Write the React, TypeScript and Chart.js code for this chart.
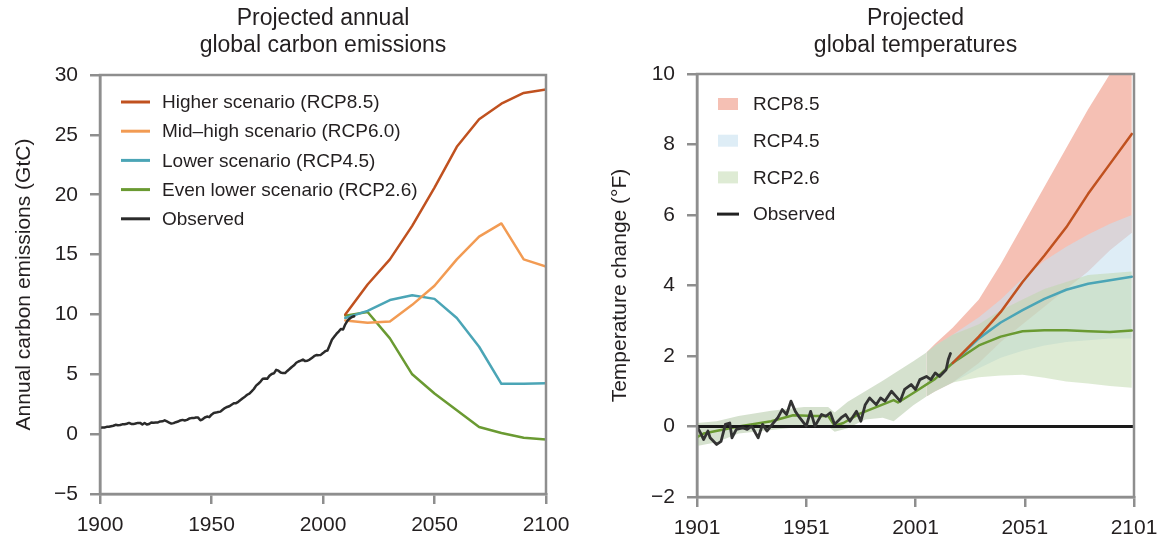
import { useEffect, useRef } from 'react';
import { Chart, registerables } from 'chart.js';

Chart.register(...registerables);

const FONT = "'Liberation Sans', Arial, Helvetica, sans-serif";
const TEXT = '#231f20';
const AXIS = '#8e8e8e';

const C85 = '#c0511f';
const C60 = '#f29b53';
const C45 = '#4ba5b6';
const C26 = '#6a9a32';
const COBS = '#2b2b2b';

// ---------- Left chart: projected annual global carbon emissions ----------
const EMIS_X_TICKS = [1900, 1950, 2000, 2050, 2100];
const EMIS_Y_TICKS = [-5, 0, 5, 10, 15, 20, 25, 30];
const OBS_EMIS_FIRST_YEAR = 1900;
const OBS_EMIS = [
  0.53, 0.55, 0.56, 0.61, 0.62, 0.66, 0.7, 0.78, 0.74, 0.76,
  0.82, 0.82, 0.87, 0.94, 0.85, 0.84, 0.89, 0.94, 0.94, 0.81,
  0.93, 0.8, 0.85, 0.97, 0.96, 0.98, 0.98, 1.06, 1.07, 1.15,
  1.06, 0.97, 0.88, 0.92, 1.0, 1.05, 1.14, 1.19, 1.14, 1.19,
  1.3, 1.34, 1.34, 1.39, 1.38, 1.16, 1.24, 1.39, 1.47, 1.42,
  1.63, 1.77, 1.8, 1.85, 1.88, 2.04, 2.18, 2.27, 2.33, 2.46,
  2.58, 2.59, 2.7, 2.85, 3.0, 3.13, 3.29, 3.39, 3.57, 3.77,
  4.05, 4.21, 4.39, 4.63, 4.64, 4.62, 4.88, 5.03, 5.08, 5.37,
  5.3, 5.15, 5.1, 5.1, 5.28, 5.44, 5.61, 5.75, 5.96, 6.07,
  6.14, 6.23, 6.1, 6.13, 6.23, 6.37, 6.51, 6.61, 6.6, 6.62,
  6.77, 6.93, 6.99, 7.43, 7.89, 8.13, 8.37, 8.57, 8.78, 8.74,
  9.17, 9.48, 9.66, 9.79, 9.85,
];
const RCP_YEARS = [2010, 2020, 2030, 2040, 2050, 2060, 2070, 2080, 2090, 2100];
const RCP85_EMIS = [10.0, 12.5, 14.6, 17.4, 20.6, 24.0, 26.3, 27.6, 28.5, 28.8];
const RCP60_EMIS = [9.5, 9.3, 9.4, 10.8, 12.4, 14.6, 16.5, 17.6, 14.6, 14.0];
const RCP45_EMIS = [9.7, 10.3, 11.2, 11.6, 11.3, 9.7, 7.3, 4.2, 4.2, 4.25];
const RCP26_EMIS = [9.9, 10.2, 8.0, 5.0, 3.4, 2.0, 0.6, 0.1, -0.3, -0.45];

const EMIS_LEGEND = [
  { label: 'Higher scenario (RCP8.5)', color: C85 },
  { label: 'Mid\u2013high scenario (RCP6.0)', color: C60 },
  { label: 'Lower scenario (RCP4.5)', color: C45 },
  { label: 'Even lower scenario (RCP2.6)', color: C26 },
  { label: 'Observed', color: COBS },
];

// ---------- Right chart: projected global temperatures ----------
const TEMP_X_TICKS = [1901, 1951, 2001, 2051, 2101];
const TEMP_Y_TICKS = [-2, 0, 2, 4, 6, 8, 10];
const OBS_TEMP_YEARS = [
  1901, 1903, 1904, 1906, 1907, 1910, 1912, 1914, 1916, 1917, 1919, 1922, 1924, 1926,
  1929, 1931, 1933, 1936, 1938, 1940, 1942, 1944, 1946, 1948, 1951, 1953, 1955, 1958,
  1960, 1962, 1964, 1967, 1969, 1971, 1974, 1976, 1978, 1980, 1983, 1985, 1987, 1990,
  1992, 1994, 1996, 1999, 2001, 2003, 2006, 2008, 2010, 2012, 2015, 2016, 2017,
];
const OBS_TEMP = [
  0.01, -0.23, -0.37, -0.13, -0.32, -0.51, -0.42, 0.06, 0.1, -0.32, -0.08, -0.04, -0.08, 0.01,
  -0.32, 0.06, -0.13, 0.1, 0.25, 0.48, 0.34, 0.72, 0.43, 0.25, 0.01, 0.43, 0.01, 0.34,
  0.29, 0.39, 0.06, 0.25, 0.34, 0.15, 0.43, 0.15, 0.62, 0.81, 0.62, 0.81, 0.72, 1.0,
  0.86, 0.72, 1.05, 1.19, 1.05, 1.33, 1.42, 1.33, 1.52, 1.42, 1.61, 1.9, 2.07,
];
const MODEL_HIST_YEARS = [1901, 1904, 1912, 1920, 1935, 1945, 1955, 1961, 1964, 1968, 1975, 1985, 1991, 1993, 2000, 2010];
const MODEL_HIST_TEMP = [-0.3, -0.2, -0.1, 0.0, 0.15, 0.32, 0.3, 0.3, 0.02, 0.1, 0.35, 0.6, 0.75, 0.68, 0.95, 1.35];
const PROJ_YEARS = [2018, 2030, 2040, 2050, 2060, 2070, 2080, 2090, 2100];
const RCP85_TEMP = [1.8, 2.55, 3.25, 4.1, 4.85, 5.65, 6.6, 7.45, 8.3];
const RCP45_TEMP = [1.8, 2.5, 2.95, 3.3, 3.62, 3.88, 4.05, 4.15, 4.25];
const RCP26_TEMP = [1.8, 2.3, 2.55, 2.7, 2.73, 2.73, 2.7, 2.68, 2.72];
const ZERO_YEARS = [1901, 2101];
const ZERO_LINE = [0, 0];

const HIST_BAND_YEARS = [1901, 1910, 1920, 1935, 1950, 1961, 1964, 1970, 1978, 1986, 1991, 2000, 2006];
const HIST_BAND_UPPER = [0.1, 0.15, 0.3, 0.45, 0.55, 0.55, 0.4, 0.7, 1.0, 1.3, 1.5, 1.85, 2.1];
const HIST_BAND_LOWER = [-0.55, -0.45, -0.2, -0.1, 0.0, 0.0, -0.15, -0.05, 0.2, 0.25, 0.15, 0.6, 0.85];
const BAND_YEARS = [2006, 2010, 2018, 2030, 2040, 2050, 2060, 2070, 2080, 2090, 2100];
const RCP85_UPPER = [2.1, 2.35, 2.8, 3.6, 4.6, 5.7, 6.8, 7.9, 9.0, 10.0, 11.0];
const RCP85_LOWER = [0.85, 1.0, 1.25, 1.8, 2.4, 2.9, 3.4, 3.9, 4.4, 5.0, 5.5];
const RCP45_UPPER = [2.1, 2.3, 2.6, 3.1, 3.6, 4.2, 4.7, 5.1, 5.45, 5.75, 6.0];
const RCP45_LOWER = [0.85, 1.0, 1.25, 1.65, 1.95, 2.15, 2.3, 2.4, 2.45, 2.5, 2.5];
const RCP26_UPPER = [2.1, 2.3, 2.6, 2.9, 3.3, 3.6, 3.9, 4.1, 4.3, 4.35, 4.4];
const RCP26_LOWER = [0.85, 1.0, 1.25, 1.4, 1.45, 1.47, 1.38, 1.28, 1.22, 1.15, 1.1];

const BAND85 = 'rgba(235,130,105,0.5)';
const BAND45 = 'rgba(200,225,240,0.6)';
const BAND26 = 'rgba(190,215,170,0.5)';
const BANDHIST = 'rgba(172,196,158,0.5)';

const TEMP_LEGEND = [
  { label: 'RCP8.5', color: BAND85, patch: true },
  { label: 'RCP4.5', color: BAND45, patch: true },
  { label: 'RCP2.6', color: BAND26, patch: true },
  { label: 'Observed', color: '#222222', patch: false },
];

const pts = (xs: number[], ys: number[]) => xs.map((x, i) => ({ x, y: ys[i] }));

const lineDs = (data: any[], color: string, width: number, order: number) => ({
  type: 'line',
  data,
  borderColor: color,
  borderWidth: width,
  pointRadius: 0,
  tension: 0,
  fill: false,
  borderJoinStyle: 'round',
  borderCapStyle: 'round',
  order,
});

const bandDs = (years: number[], upper: number[], lower: number[], color: string, order: number) => [
  {
    type: 'line',
    data: pts(years, lower),
    borderWidth: 0,
    borderColor: 'rgba(0,0,0,0)',
    pointRadius: 0,
    fill: false,
    order,
  },
  {
    type: 'line',
    data: pts(years, upper),
    borderWidth: 0,
    borderColor: 'rgba(0,0,0,0)',
    backgroundColor: color,
    pointRadius: 0,
    fill: '-1',
    order,
  },
];

const framePlugin = {
  id: 'frame',
  afterDraw(chart: any) {
    const { ctx, chartArea } = chart;
    const { left, top, right, bottom } = chartArea;
    ctx.save();
    ctx.strokeStyle = AXIS;
    ctx.lineWidth = 2.5;
    ctx.strokeRect(left, top, right - left, bottom - top);
    ctx.restore();
  },
};

const fmtNum = (v: any) => {
  const n = Number(v);
  return n < 0 ? '\u2212' + Math.abs(n) : String(n);
};

function makeScales(o: {
  xMin: number; xMax: number; xTicks: number[];
  yMin: number; yMax: number; yTicks: number[];
  yTitle: string; yWidth: number; yTitlePad: number; xHeight: number;
}) {
  const grid = { drawOnChartArea: false, color: AXIS, lineWidth: 2.5, tickLength: 10 };
  return {
    x: {
      type: 'linear',
      min: o.xMin,
      max: o.xMax,
      grid,
      border: { color: AXIS, width: 2.5 },
      ticks: {
        color: TEXT,
        font: { family: FONT, size: 21 },
        padding: 9,
        maxRotation: 0,
        autoSkip: false,
        callback: (v: any) => String(v),
      },
      afterBuildTicks: (s: any) => {
        s.ticks = o.xTicks.map((value) => ({ value }));
      },
      afterFit: (s: any) => {
        s.height = o.xHeight;
      },
    },
    y: {
      type: 'linear',
      min: o.yMin,
      max: o.yMax,
      grid,
      border: { color: AXIS, width: 2.5 },
      ticks: {
        color: TEXT,
        font: { family: FONT, size: 21 },
        padding: 12,
        autoSkip: false,
        callback: fmtNum,
      },
      afterBuildTicks: (s: any) => {
        s.ticks = o.yTicks.map((value) => ({ value }));
      },
      title: {
        display: true,
        text: o.yTitle,
        color: TEXT,
        font: { family: FONT, size: 21, lineHeight: 1.2 },
        padding: { top: o.yTitlePad, bottom: 0 },
      },
      afterFit: (s: any) => {
        s.width = o.yWidth;
      },
    },
  };
}

function EmissionsChart() {
  const ref = useRef<HTMLCanvasElement | null>(null);
  useEffect(() => {
    if (!ref.current) return;
    const obsYears = OBS_EMIS.map((_, i) => OBS_EMIS_FIRST_YEAR + i);
    const legendPlugin = {
      id: 'emisLegend',
      afterDraw(chart: any) {
        const { ctx, chartArea } = chart;
        ctx.save();
        ctx.font = `19px ${FONT}`;
        ctx.textBaseline = 'middle';
        ctx.textAlign = 'left';
        EMIS_LEGEND.forEach((it, i) => {
          const y = chartArea.top + 27 + i * 29.2;
          ctx.strokeStyle = it.color;
          ctx.lineWidth = 3;
          ctx.beginPath();
          ctx.moveTo(chartArea.left + 21, y);
          ctx.lineTo(chartArea.left + 50, y);
          ctx.stroke();
          ctx.fillStyle = TEXT;
          ctx.fillText(it.label, chartArea.left + 62, y + 1);
        });
        ctx.restore();
      },
    };
    const chart = new Chart(ref.current, {
      type: 'line',
      data: {
        datasets: [
          lineDs(pts(obsYears, OBS_EMIS), COBS, 2.5, 0),
          lineDs(pts(RCP_YEARS, RCP85_EMIS), C85, 2.5, 1),
          lineDs(pts(RCP_YEARS, RCP60_EMIS), C60, 2.5, 1),
          lineDs(pts(RCP_YEARS, RCP45_EMIS), C45, 2.5, 1),
          lineDs(pts(RCP_YEARS, RCP26_EMIS), C26, 2.5, 1),
        ] as any,
      },
      options: {
        animation: false,
        responsive: false,
        events: [],
        layout: { padding: { left: 0, right: 41, top: 0, bottom: 0 } },
        plugins: {
          legend: { display: false },
          tooltip: { enabled: false },
          title: {
            display: true,
            text: ['Projected annual', 'global carbon emissions'],
            color: TEXT,
            fullSize: false,
            font: { family: FONT, size: 23, weight: 'normal', lineHeight: 1.2 },
            padding: { top: 4.5, bottom: 15.3 },
          },
        },
        scales: makeScales({
          xMin: 1900, xMax: 2100, xTicks: EMIS_X_TICKS,
          yMin: -5, yMax: 30, yTicks: EMIS_Y_TICKS,
          yTitle: 'Annual carbon emissions (GtC)', yWidth: 100, yTitlePad: 12, xHeight: 50,
        }) as any,
      },
      plugins: [framePlugin, legendPlugin],
    });
    return () => chart.destroy();
  }, []);
  return (
    <canvas
      ref={ref}
      width={587}
      height={544}
      style={{ position: 'absolute', left: 0, top: 0, width: 587, height: 544 }}
    />
  );
}

function TemperatureChart() {
  const ref = useRef<HTMLCanvasElement | null>(null);
  useEffect(() => {
    if (!ref.current) return;
    const legendPlugin = {
      id: 'tempLegend',
      afterDraw(chart: any) {
        const { ctx, chartArea } = chart;
        ctx.save();
        ctx.font = `19px ${FONT}`;
        ctx.textBaseline = 'middle';
        ctx.textAlign = 'left';
        TEMP_LEGEND.forEach((it, i) => {
          const y = chartArea.top + 30 + i * 36.7;
          if (it.patch) {
            ctx.fillStyle = '#ffffff';
            ctx.fillRect(chartArea.left + 21, y - 6, 20, 12);
            ctx.fillStyle = it.color;
            ctx.fillRect(chartArea.left + 21, y - 6, 20, 12);
          } else {
            ctx.strokeStyle = it.color;
            ctx.lineWidth = 3;
            ctx.beginPath();
            ctx.moveTo(chartArea.left + 20, y);
            ctx.lineTo(chartArea.left + 42, y);
            ctx.stroke();
          }
          ctx.fillStyle = TEXT;
          ctx.fillText(it.label, chartArea.left + 56, y + 1);
        });
        ctx.restore();
      },
    };
    const chart = new Chart(ref.current, {
      type: 'line',
      data: {
        datasets: [
          lineDs(pts(OBS_TEMP_YEARS, OBS_TEMP), '#333333', 2.8, 0),
          lineDs(pts(ZERO_YEARS, ZERO_LINE), '#1a1a1a', 3, 1),
          lineDs(pts(PROJ_YEARS, RCP85_TEMP), C85, 2.5, 2),
          lineDs(pts(PROJ_YEARS, RCP45_TEMP), C45, 2.5, 2),
          lineDs(pts([...MODEL_HIST_YEARS, ...PROJ_YEARS], [...MODEL_HIST_TEMP, ...RCP26_TEMP]), C26, 2.5, 3),
          ...bandDs(HIST_BAND_YEARS, HIST_BAND_UPPER, HIST_BAND_LOWER, BANDHIST, 6),
          ...bandDs(BAND_YEARS, RCP26_UPPER, RCP26_LOWER, BAND26, 7),
          ...bandDs(BAND_YEARS, RCP45_UPPER, RCP45_LOWER, BAND45, 8),
          ...bandDs(BAND_YEARS, RCP85_UPPER, RCP85_LOWER, BAND85, 9),
        ] as any,
      },
      options: {
        animation: false,
        responsive: false,
        events: [],
        layout: { padding: { left: 0, right: 41, top: 0, bottom: 0 } },
        plugins: {
          legend: { display: false },
          tooltip: { enabled: false },
          filler: { propagate: false },
          title: {
            display: true,
            text: ['Projected', 'global temperatures'],
            color: TEXT,
            fullSize: false,
            font: { family: FONT, size: 23, weight: 'normal', lineHeight: 1.2 },
            padding: { top: 4.5, bottom: 14.3 },
          },
        },
        scales: makeScales({
          xMin: 1901, xMax: 2101, xTicks: TEMP_X_TICKS,
          yMin: -2, yMax: 10, yTicks: TEMP_Y_TICKS,
          yTitle: 'Temperature change (\u00b0F)', yWidth: 110, yTitlePad: 21, xHeight: 47,
        }) as any,
      },
      plugins: [framePlugin, legendPlugin],
    });
    return () => chart.destroy();
  }, []);
  return (
    <canvas
      ref={ref}
      width={588}
      height={544}
      style={{ position: 'absolute', left: 587, top: 0, width: 588, height: 544 }}
    />
  );
}

export default function App() {
  return (
    <div
      style={{
        position: 'absolute',
        left: 0,
        top: 0,
        width: 1175,
        height: 544,
        background: '#ffffff',
        overflow: 'hidden',
      }}
    >
      <EmissionsChart />
      <TemperatureChart />
    </div>
  );
}
